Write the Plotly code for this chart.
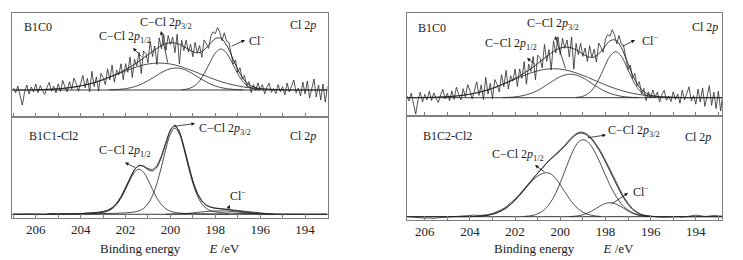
import numpy as np
import plotly.graph_objects as go

W, H = 743, 260

# ---------------- data (intensity in arbitrary units, baseline = 0) ----------------
# Top-left: B1C0, component grid 0.25 eV
tl_grid_start, tl_step, tl_n = 207.0, 0.25, 57
tl_cl_start = 199.5
tl_cl = [0.3, 1.0, 3.1, 7.8, 16.2, 27.1, 37.0, 41, 37.0, 27.1, 16.2, 7.8, 3.1, 1.0, 0.3]
tl_p32_start = 202.75
tl_p32 = [0.15, 0.3, 0.7, 1.3, 2.4, 4.0, 6.3, 9.3, 12.6, 16.1, 19.2, 21.3, 22, 21.3, 19.2, 16.1, 12.6,
          9.3, 6.3, 4.0, 2.4, 1.3, 0.7, 0.3, 0.15]
tl_p12_start = 206.0
tl_p12 = [0.25, 0.4, 0.6, 0.8, 1.2, 1.7, 2.3, 3.1, 4.1, 5.3, 6.7, 8.4, 10.3, 12.4, 14.6, 16.8, 19.1, 21.2,
          23.1, 24.8, 26.0, 26.7, 27, 26.7, 26.0, 24.8, 23.1, 21.2, 19.1, 16.8, 14.6, 12.4, 10.3, 8.4, 6.7,
          5.3, 4.1, 3.1, 2.3, 1.7, 1.2, 0.8, 0.6, 0.4, 0.25]
tl_raw_start, tl_raw_step = 207.0, 0.1
tl_raw = [2, -3, 4, -6, -15, -2, 5, -4, 3, -2, 6,
          -2.7, 4.4, -0.6, -4.5, 2.6, 7.7, -1.2, 3.9, -2.9, 6.2,
          -1.6, 9.6, 2.9, -1.9, 8.3, 0.7, 12.0, 6.4, -1.3, 8.1,
          14.6, 2.1, 11.7, -1.8, 18.7, 3.4, 13.1, -1.1, 16.6, 12.4,
          5.3, 21.2, 10.1, 25.0, 7.9, 20.0, 15.1, 26.2, 10.3, 26.4,
          17.7, 33.1, 12.4, 30.8, 24.1, 37.7, 16.4, 39.0, 36.7, 27.3,
          48.9, 33.4, 44.0, 25.5, 52.1, 41.0, 55.8, 39.6, 54.5, 45.3,
          52.8, 37.3, 55.7, 26.2, 49.7, 39.4, 50.1, 37.9, 45.6, 33.3,
          47.7, 37.0, 44.4, 32.7, 50.1, 46.3, 41.6, 53.8, 58.1, 56.3,
          62.5, 57.7, 49.3, 57.2, 49.0, 48.0, 37.0, 26.0, 30.0, 17.6,
          22.4, 10.8, 14.8, 3.5, 8.4, -2.7, 5.3, -0.4, 7.1, 0.5,
          5.3, -3.9, 2.9, 6.8, -2.4, 1.5, -3.6, 5.4, -1.7, 3.3,
          -5, 7, -2, 4, 10, -3, 2, -6, 8, -4,
          9, -8, 3, 11, -7, 5, -10, 6, -12, 4]

# Top-right: B1C0
tr_grid_start, tr_step, tr_n = 206.8, 0.25, 57
tr_cl_start = 199.3
tr_cl = [0.3, 1.1, 3.5, 8.8, 18.2, 30.4, 41.5, 46, 41.5, 30.4, 18.2, 8.8, 3.5, 1.1, 0.3]
tr_p32_start = 202.55
tr_p32 = [0.16, 0.3, 0.7, 1.4, 2.6, 4.3, 6.7, 9.9, 13.5, 17.2, 20.5, 22.7, 23.5, 22.7, 20.5, 17.2, 13.5,
          9.9, 6.7, 4.3, 2.6, 1.4, 0.7, 0.3, 0.16]
tr_p12_start = 205.8
tr_p12 = [0.3, 0.4, 0.6, 0.9, 1.3, 1.8, 2.5, 3.3, 4.4, 5.7, 7.2, 9.0, 11.1, 13.3, 15.7, 18.0, 20.5, 22.8,
          24.8, 26.6, 27.9, 28.7, 29, 28.7, 27.9, 26.6, 24.8, 22.8, 20.5, 18.0, 15.7, 13.3, 11.1, 9.0, 7.2,
          5.7, 4.4, 3.3, 2.5, 1.8, 1.3, 0.9, 0.6, 0.4, 0.3]
tr_raw_start, tr_raw_step = 206.8, 0.1
tr_raw = [2.2, -3.3, 4.4, -6.5, -16.4, -2.2, 5.5, -4.4, 3.3, -2.2, 6.5,
          -2.9, 4.8, -0.7, -4.9, 2.8, 8.4, -1.3, 4.3, -3.2, 6.8,
          -1.7, 10.5, 3.2, -2.1, 9.0, 0.8, 13.1, 7.0, -1.4, 8.8,
          15.9, 2.3, 12.8, -2.0, 20.4, 3.7, 14.3, -1.2, 18.1, 13.5,
          5.8, 23.1, 11.0, 27.3, 8.6, 21.8, 16.5, 28.6, 11.2, 28.8,
          19.3, 36.1, 13.5, 33.6, 26.3, 41.1, 17.9, 42.5, 40.0, 29.8,
          53.3, 36.4, 48.0, 27.8, 56.8, 44.7, 60.8, 43.2, 59.4, 49.4,
          57.6, 40.7, 60.7, 28.6, 54.2, 42.9, 54.6, 41.3, 49.7, 36.3,
          52.0, 40.3, 48.4, 35.6, 54.6, 50.5, 45.3, 58.6, 63.3, 61.4,
          68.1, 62.9, 53.7, 62.3, 53.4, 52.3, 40.3, 28.3, 32.7, 19.2,
          24.4, 11.8, 16.1, 3.8, 9.2, -2.9, 5.8, -0.4, 7.7, 0.5,
          5.8, -4.3, 3.2, 7.4, -2.6, 1.6, -3.9, 5.9, -1.9, 3.6,
          -5.5, 7.6, -2.2, 4.4, 10.9, -3.3, 2.2, -6.5, 8.7, -4.4,
          9.8, -8.7, 3.3, 12.0, -7.6, 5.5, -10.9, 6.5, -13.1, 4.4]

# Bottom-left: B1C1-Cl2, grid 0.2 eV
bl_grid_start, bl_step, bl_n = 207.0, 0.2, 71
bl_p32_start = 203.8
bl_p32 = [0.4, 0.5, 0.6, 0.6, 0.7, 0.8, 0.9, 1.0, 1.2, 1.4, 1.8, 2.4, 3.5, 5.9, 10.6, 18.9, 31.6, 48.5,
          66.9, 82.0, 88, 82.0, 66.9, 48.5, 31.6, 18.9, 10.6, 5.9, 3.5, 2.4, 1.8, 1.4, 1.2, 1.0, 0.9, 0.8,
          0.7, 0.6, 0.6, 0.5, 0.4]
bl_p12_start = 205.4
bl_p12 = [0.2, 0.3, 0.3, 0.3, 0.4, 0.4, 0.5, 0.5, 0.6, 0.7, 0.9, 1.3, 1.8, 3.1, 5.5, 9.9, 16.5, 25.4,
          35.0, 42.9, 46, 42.9, 35.0, 25.4, 16.5, 9.9, 5.5, 3.1, 1.8, 1.3, 0.9, 0.7, 0.6, 0.5, 0.5, 0.4,
          0.4, 0.3, 0.3, 0.3, 0.2]
bl_cl_start = 200.2
bl_cl = [0.1, 0.2, 0.3, 0.5, 0.7, 1.0, 1.4, 1.9, 2.4, 2.8, 3.2, 3.4, 3.5, 3.4, 3.2, 2.8, 2.4, 1.9, 1.4,
         1.0, 0.7, 0.5, 0.3, 0.2, 0.1]
bl_raw = [0.2, -0.2, 0.1, 0.3, -0.1, 0.2, 0.0, -0.2,
          0.5, 0.3, 0.6, 0.2, 0.5, 0.3, 0.7, 0.5,
          1.1, 1.3, 1.7, 2.1, 2.8, 4.2, 6.8, 11.3, 18.2, 27.3,
          37.4, 45.9, 50.0, 49.5, 46.6, 45.5, 49.3, 59.6, 73.8, 86.8,
          91.4, 84.8, 69.2, 50.8, 34.0, 21.6, 13.8, 9.4, 7.4, 6.4,
          5.9, 5.4, 4.9, 4.1, 3.5, 2.9, 2.3, 1.8, 1.4, 1.1,
          0.8, 0.4, 0.2, 0.1, 0.0,
          0.1, 0.0, -0.1, 0.1, 0.0, 0.1, -0.1, 0.0, 0.1, 0.0]

# Bottom-right: B1C2-Cl2, grid 0.2 eV
br_grid_start, br_step, br_n = 206.8, 0.2, 71
br_p12_start = 203.8
br_p12 = [0.2, 0.5, 0.9, 1.5, 2.5, 3.9, 6.0, 8.7, 12.2, 16.5, 21.4, 26.7, 32.0, 36.8, 40.6, 43.1, 44,
          42.5, 38.2, 31.9, 24.9, 18.1, 12.2, 7.7, 4.5, 2.5, 1.3, 0.6, 0.3]
br_p32_start = 201.6
br_p32 = [0.3, 0.7, 1.4, 2.9, 5.3, 9.4, 15.4, 23.6, 33.9, 45.5, 57.3, 67.6, 74.6, 77, 75.2, 69.8, 61.6,
          52.0, 41.5, 31.6, 23.0, 15.9, 10.4, 6.6, 3.9, 2.2, 1.1, 0.6, 0.3]
br_cl_start = 199.6
br_cl = [0.15, 0.4, 0.9, 1.9, 3.5, 5.8, 8.5, 11.2, 13.2, 14, 13.2, 11.2, 8.5, 5.8, 3.5, 1.9, 0.9, 0.4, 0.15]
br_raw = [0.3, -0.3, -0.8, -1.2, -1.5, -1.2, -1.6, -1.0, -0.6, 0.0,
          0.3, 0.2, 0.6, 0.9, 1.2, 1.6, 1.2, 1.3, 2.0, 3.2,
          4.8, 7.0, 9.8, 13.4, 17.8, 22.6, 28.0, 33.5, 38.8, 43.9,
          48.9, 54.0, 58.6, 62.6, 66.8, 71.5, 76.8, 81.4, 84.3, 84.6,
          82.5, 78.3, 72.2, 65.0, 56.3, 47.2, 37.8, 28.6, 20.2, 13.4,
          8.0, 4.4, 2.2, 1.0, 0.3, -0.1, -0.4, -0.6, -0.3, 0.2,
          0.0, -0.5, -0.2, 0.8, 1.6, 1.0, 0.3, 0.6, 1.2, 0.8, 0.5]

tick_vals = [206, 204, 202, 200, 198, 196, 194]
tick_text = ["206", "204", "202", "200", "198", "196", "194"]

# ---------------- layout geometry (pixels) ----------------
FONT = "Liberation Serif, Times New Roman, serif"
LINE = "#222222"
FRAME = "#7f7f7f"

panels = {
    # name: (x0px, x1px, y_top_px, y_bot_px, xrange, yrange, show_labels)
    "tl": (12, 327.5, 13, 116.5, [207.06, 193.0], [-26.5, 77], False),
    "bl": (12, 327.5, 116.5, 217.5, [207.06, 193.0], [-3.3, 99.8], True),
    "tr": (406.7, 722, 13, 116, [206.8, 192.84], [-18.3, 84.7], False),
    "br": (406.7, 722, 116, 219.5, [206.8, 192.84], [-2.8, 100.7], True),
}
order = ["tl", "bl", "tr", "br"]


def grid(start, step, n):
    return start - step * np.arange(n)


def place(g_start, step, n, c_start, vals):
    full = np.zeros(n)
    k0 = int(round((g_start - c_start) / step))
    full[k0:k0 + len(vals)] = vals
    return full


fig = go.Figure()

panel_data = {
    "tl": dict(g=(tl_grid_start, tl_step, tl_n),
               comps=[(tl_p12_start, tl_p12), (tl_p32_start, tl_p32), (tl_cl_start, tl_cl)],
               raw=(tl_raw_start, tl_raw_step, tl_raw)),
    "tr": dict(g=(tr_grid_start, tr_step, tr_n),
               comps=[(tr_p12_start, tr_p12), (tr_p32_start, tr_p32), (tr_cl_start, tr_cl)],
               raw=(tr_raw_start, tr_raw_step, tr_raw)),
    "bl": dict(g=(bl_grid_start, bl_step, bl_n),
               comps=[(bl_p12_start, bl_p12), (bl_p32_start, bl_p32), (bl_cl_start, bl_cl)],
               raw=(bl_grid_start, bl_step, bl_raw)),
    "br": dict(g=(br_grid_start, br_step, br_n),
               comps=[(br_p12_start, br_p12), (br_p32_start, br_p32), (br_cl_start, br_cl)],
               raw=(br_grid_start, br_step, br_raw)),
}

for i, name in enumerate(order):
    ax = "" if i == 0 else str(i + 1)
    xa, ya = "x" + ax, "y" + ax
    d = panel_data[name]
    gs, st, n = d["g"]
    xg = grid(gs, st, n)
    fig.add_trace(go.Scatter(x=[208, 192], y=[0, 0], mode="lines", line=dict(color=LINE, width=0.9),
                             xaxis=xa, yaxis=ya, showlegend=False, hoverinfo="skip"))
    env = np.zeros(n)
    for cs, vals in d["comps"]:
        env += place(gs, st, n, cs, vals)
        xc = grid(cs, st, len(vals))
        fig.add_trace(go.Scatter(x=xc, y=vals, mode="lines", line=dict(color=LINE, width=0.8, shape="spline"),
                                 xaxis=xa, yaxis=ya, showlegend=False, hoverinfo="skip"))
    rs, rstep, rv = d["raw"]
    xr = grid(rs, rstep, len(rv))
    fig.add_trace(go.Scatter(x=xr, y=rv, mode="lines", line=dict(color="#2a2a2a", width=0.8),
                             xaxis=xa, yaxis=ya, showlegend=False, hoverinfo="skip"))
    fig.add_trace(go.Scatter(x=xg, y=env, mode="lines", line=dict(color=LINE, width=0.9, shape="spline"),
                             xaxis=xa, yaxis=ya, showlegend=False, hoverinfo="skip"))

layout = dict(width=W, height=H, margin=dict(l=0, r=0, t=0, b=0), paper_bgcolor="white",
              plot_bgcolor="white", showlegend=False)
for i, name in enumerate(order):
    x0, x1, yt, yb, xr, yr, lab = panels[name]
    key = "" if i == 0 else str(i + 1)
    layout["xaxis" + key] = dict(
        domain=[x0 / W, x1 / W], anchor="y" + key, range=xr, showline=True, mirror=True,
        linecolor=FRAME, linewidth=1, ticks="inside", ticklen=4, tickcolor=FRAME, tickwidth=1,
        tickvals=tick_vals, ticktext=tick_text, showticklabels=lab, showgrid=False, zeroline=False,
        tickfont=dict(family=FONT, size=13, color="#222"),
        minor=dict(ticks="inside", ticklen=4, tickcolor=FRAME, dtick=1, tick0=194, showgrid=False),
    )
    layout["yaxis" + key] = dict(
        domain=[1 - yb / H, 1 - yt / H], anchor="x" + key, range=yr, showline=True, mirror=True,
        linecolor=FRAME, linewidth=1, ticks="", showticklabels=False, showgrid=False, zeroline=False,
    )
fig.update_layout(**layout)


def px(x, y):
    return x / W, 1 - y / H


C32 = "C\u2212Cl 2<i>p</i><sub>3/2</sub>"
C12 = "C\u2212Cl 2<i>p</i><sub>1/2</sub>"
CLM = "Cl<sup>\u2212</sup>"
CL2P = "Cl 2<i>p</i>"

labels = [
    ("B1C0", 22, 27, "left"), (CL2P, 318, 25, "right"), (C32, 138, 23, "left"),
    (C12, 97, 37, "left"), (CLM, 247, 40, "left"),
    ("B1C1-Cl2", 27, 136, "left"), (CL2P, 318, 136, "right"), (C32, 197, 129, "left"),
    (C12, 97, 151, "left"), (CLM, 228, 195, "left"),
    ("B1C0", 416, 28, "left"), (CL2P, 720, 27, "right"), (C32, 525, 24, "left"),
    (C12, 483, 44, "left"), (CLM, 640, 40, "left"),
    ("B1C2-Cl2", 421, 136, "left"), (CL2P, 713, 137, "right"), (C32, 606, 131, "left"),
    (C12, 490, 155, "left"), (CLM, 631, 191, "left"),
]
arrows = [
    (133, 48, 143, 58), (161, 31, 168, 64), (245, 40, 230, 47),
    (195, 123.5, 173, 126.5), (125, 162.5, 137, 168.5), (230, 205, 226.5, 211),
    (527, 58, 536, 65), (555, 36, 566, 70), (635, 40, 621, 47),
    (606, 135, 586, 138), (535, 165, 546, 173), (628, 193, 610, 205),
]

annots = []
for t, x, y, xa in labels:
    X, Y = px(x, y)
    annots.append(dict(text=t, x=X, y=Y, xref="paper", yref="paper", xanchor=xa, yanchor="middle",
                       showarrow=False, font=dict(family=FONT, size=12, color="#1a1a1a")))
for hx, hy, tx, ty in arrows:
    X, Y = px(hx, hy)
    annots.append(dict(text="", x=X, y=Y, xref="paper", yref="paper", ax=tx - hx, ay=ty - hy,
                       axref="pixel", ayref="pixel", showarrow=True, arrowhead=2, arrowsize=0.9,
                       arrowwidth=0.8, arrowcolor="#1a1a1a", standoff=0, startstandoff=0))
title = "Binding energy" + "\u00a0" * 9 + "<i>E</i> /eV"
for cx in [(12 + 327.5) / 2, (406.7 + 722) / 2]:
    X, Y = px(cx, 248)
    annots.append(dict(text=title, x=X, y=Y, xref="paper", yref="paper", xanchor="center",
                       yanchor="middle", showarrow=False, font=dict(family=FONT, size=13, color="#1a1a1a")))
fig.update_layout(annotations=annots)

fig.write_html("out.html", config={"displayModeBar": False},
               post_script="document.body.style.margin='0';document.body.style.padding='0';")
